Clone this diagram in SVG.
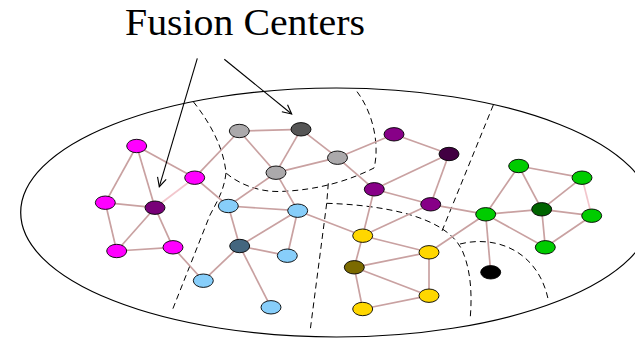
<svg xmlns="http://www.w3.org/2000/svg" width="635" height="338" viewBox="0 0 635 338">
  <defs>
    <style>
      .region { fill: none; stroke: #000; stroke-width: 1.2; }
      .part { fill: none; stroke: #000; stroke-width: 1; stroke-dasharray: 6 4; }
      .edge { stroke: #c9a1a1; stroke-width: 1.7; fill: none; }
      .edge.light { stroke: #f2c6cc; }
      .node ellipse { stroke: #000; stroke-width: 0.9; }
      .ptr { stroke: #000; stroke-width: 1.1; fill: none; }
      .label { font-family: "Liberation Serif", "DejaVu Serif", serif; font-size: 37px; fill: #000; }
    </style>
    <marker id="vee" viewBox="-10 -6 12 12" markerWidth="12" markerHeight="12" refX="0" refY="0" orient="auto" markerUnits="userSpaceOnUse">
      <path d="M -9,-4.5 L 0,0 L -9,4.5" fill="none" stroke="#000" stroke-width="1.1"/>
    </marker>
  </defs>

  <!-- whole network area -->
  <ellipse class="region" cx="336.4" cy="212.5" rx="315.7" ry="124.5"/>

  <!-- partition boundaries -->
  <g id="partitions">
    <path class="part" d="M193.3,101.7 C212,125 224,150 226,173 C240,185 260,192 280,191.5 C320,190 350,180 374,168 C379,150 376,115 355,89"/>
    <path class="part" d="M226,173 C224,190 218,200 210,215 L171.7,311.7"/>
    <path class="part" d="M328.3,183.3 L326.7,203.3 L310,331.7"/>
    <path class="part" d="M326.7,203.3 C380,205 445,215 462,250 C472,272 472,300 470,320"/>
    <path class="part" d="M493.3,105 L441.7,231.7"/>
    <path class="part" d="M460,244 C495,235 538,250 548.3,300"/>
  </g>

  <!-- links -->
  <g id="connectors">
    <line class="edge" x1="136.7" y1="146" x2="105.3" y2="202.7"/>
    <line class="edge" x1="136.7" y1="146" x2="155" y2="207.7"/>
    <line class="edge" x1="136.7" y1="146" x2="194.7" y2="177.7"/>
    <line class="edge" x1="105.3" y1="202.7" x2="155" y2="207.7"/>
    <line class="edge" x1="105.3" y1="202.7" x2="116.7" y2="251"/>
    <line class="edge" x1="155" y1="207.7" x2="116.7" y2="251"/>
    <line class="edge" x1="155" y1="207.7" x2="173" y2="247.3"/>
    <line class="edge light" x1="155" y1="207.7" x2="194.7" y2="177.7"/>
    <line class="edge" x1="116.7" y1="251" x2="173" y2="247.3"/>
    <line class="edge" x1="173" y1="247.3" x2="203.3" y2="280.7"/>
    <line class="edge" x1="194.7" y1="177.7" x2="239.3" y2="131"/>
    <line class="edge" x1="194.7" y1="177.7" x2="228.3" y2="206"/>
    <line class="edge" x1="239.3" y1="131" x2="301" y2="129.3"/>
    <line class="edge" x1="239.3" y1="131" x2="276" y2="172.7"/>
    <line class="edge" x1="301" y1="129.3" x2="276" y2="172.7"/>
    <line class="edge" x1="301" y1="129.3" x2="337.5" y2="157.7"/>
    <line class="edge" x1="276" y1="172.7" x2="337.5" y2="157.7"/>
    <line class="edge" x1="276" y1="172.7" x2="228.3" y2="206"/>
    <line class="edge" x1="276" y1="172.7" x2="297.7" y2="210.7"/>
    <line class="edge" x1="228.3" y1="206" x2="297.7" y2="210.7"/>
    <line class="edge" x1="228.3" y1="206" x2="239.7" y2="246"/>
    <line class="edge" x1="239.7" y1="246" x2="297.7" y2="210.7"/>
    <line class="edge" x1="239.7" y1="246" x2="287.3" y2="255.7"/>
    <line class="edge" x1="239.7" y1="246" x2="203.3" y2="280.7"/>
    <line class="edge" x1="239.7" y1="246" x2="271" y2="307.3"/>
    <line class="edge" x1="297.7" y1="210.7" x2="287.3" y2="255.7"/>
    <line class="edge" x1="297.7" y1="210.7" x2="362.7" y2="235.7"/>
    <line class="edge" x1="337.5" y1="157.7" x2="394" y2="134.3"/>
    <line class="edge" x1="337.5" y1="157.7" x2="374.3" y2="189.3"/>
    <line class="edge" x1="394" y1="134.3" x2="449" y2="154"/>
    <line class="edge" x1="449" y1="154" x2="374.3" y2="189.3"/>
    <line class="edge" x1="449" y1="154" x2="430.7" y2="204.3"/>
    <line class="edge" x1="374.3" y1="189.3" x2="430.7" y2="204.3"/>
    <line class="edge" x1="374.3" y1="189.3" x2="362.7" y2="235.7"/>
    <line class="edge" x1="430.7" y1="204.3" x2="485.7" y2="214.3"/>
    <line class="edge" x1="430.7" y1="204.3" x2="362.7" y2="235.7"/>
    <line class="edge" x1="362.7" y1="235.7" x2="429" y2="252.3"/>
    <line class="edge" x1="362.7" y1="235.7" x2="354.3" y2="267.3"/>
    <line class="edge" x1="354.3" y1="267.3" x2="429" y2="252.3"/>
    <line class="edge" x1="354.3" y1="267.3" x2="429" y2="295.7"/>
    <line class="edge" x1="354.3" y1="267.3" x2="362.7" y2="309"/>
    <line class="edge" x1="429" y1="252.3" x2="429" y2="295.7"/>
    <line class="edge" x1="429" y1="252.3" x2="485.7" y2="214.3"/>
    <line class="edge" x1="362.7" y1="309" x2="429" y2="295.7"/>
    <line class="edge" x1="485.7" y1="214.3" x2="518.7" y2="166"/>
    <line class="edge" x1="485.7" y1="214.3" x2="541.7" y2="209.3"/>
    <line class="edge" x1="485.7" y1="214.3" x2="545.3" y2="247.3"/>
    <line class="edge" x1="485.7" y1="214.3" x2="490.7" y2="272.3"/>
    <line class="edge" x1="518.7" y1="166" x2="582" y2="177.7"/>
    <line class="edge" x1="518.7" y1="166" x2="541.7" y2="209.3"/>
    <line class="edge" x1="582" y1="177.7" x2="541.7" y2="209.3"/>
    <line class="edge light" x1="582" y1="177.7" x2="591.7" y2="215.7"/>
    <line class="edge" x1="541.7" y1="209.3" x2="591.7" y2="215.7"/>
    <line class="edge" x1="541.7" y1="209.3" x2="545.3" y2="247.3"/>
    <line class="edge" x1="591.7" y1="215.7" x2="545.3" y2="247.3"/>
  </g>

  <!-- sensors -->
  <g id="m1" class="node"><ellipse cx="136.7" cy="146" rx="10" ry="6.7" fill="#ff00ff"/></g>
  <g id="m2" class="node"><ellipse cx="194.7" cy="177.7" rx="10" ry="6.7" fill="#ff00ff"/></g>
  <g id="m3" class="node"><ellipse cx="105.3" cy="202.7" rx="10" ry="6.7" fill="#ff00ff"/></g>
  <g id="c1" class="node"><ellipse cx="155" cy="207.7" rx="10" ry="6.7" fill="#780078"/></g>
  <g id="m4" class="node"><ellipse cx="116.7" cy="251" rx="10" ry="6.7" fill="#ff00ff"/></g>
  <g id="m5" class="node"><ellipse cx="173" cy="247.3" rx="10" ry="6.7" fill="#ff00ff"/></g>

  <g id="g1" class="node"><ellipse cx="239.3" cy="131" rx="10" ry="6.7" fill="#aba9ab"/></g>
  <g id="g2" class="node"><ellipse cx="301" cy="129.3" rx="10" ry="6.7" fill="#555555"/></g>
  <g id="g3" class="node"><ellipse cx="276" cy="172.7" rx="10" ry="6.7" fill="#aba9ab"/></g>
  <g id="g4" class="node"><ellipse cx="337.5" cy="157.7" rx="10" ry="6.7" fill="#aba9ab"/></g>

  <g id="b1" class="node"><ellipse cx="228.3" cy="206" rx="10" ry="6.7" fill="#87cefa"/></g>
  <g id="b2" class="node"><ellipse cx="297.7" cy="210.7" rx="10" ry="6.7" fill="#87cefa"/></g>
  <g id="b3" class="node"><ellipse cx="239.7" cy="246" rx="10" ry="6.7" fill="#44667f"/></g>
  <g id="b4" class="node"><ellipse cx="287.3" cy="255.7" rx="10" ry="6.7" fill="#87cefa"/></g>
  <g id="b5" class="node"><ellipse cx="203.3" cy="280.7" rx="10" ry="6.7" fill="#87cefa"/></g>
  <g id="b6" class="node"><ellipse cx="271" cy="307.3" rx="10" ry="6.7" fill="#87cefa"/></g>

  <g id="p1" class="node"><ellipse cx="394" cy="134.3" rx="10" ry="6.7" fill="#870087"/></g>
  <g id="p2" class="node"><ellipse cx="449" cy="154" rx="10" ry="6.7" fill="#420042"/></g>
  <g id="p3" class="node"><ellipse cx="374.3" cy="189.3" rx="10" ry="6.7" fill="#870087"/></g>
  <g id="p4" class="node"><ellipse cx="430.7" cy="204.3" rx="10" ry="6.7" fill="#870087"/></g>

  <g id="y1" class="node"><ellipse cx="362.7" cy="235.7" rx="10" ry="6.7" fill="#ffd700"/></g>
  <g id="y2" class="node"><ellipse cx="429" cy="252.3" rx="10" ry="6.7" fill="#ffd700"/></g>
  <g id="y3" class="node"><ellipse cx="354.3" cy="267.3" rx="10" ry="6.7" fill="#7b6a00"/></g>
  <g id="y4" class="node"><ellipse cx="429" cy="295.7" rx="10" ry="6.7" fill="#ffd700"/></g>
  <g id="y5" class="node"><ellipse cx="362.7" cy="309" rx="10" ry="6.7" fill="#ffd700"/></g>

  <g id="e1" class="node"><ellipse cx="518.7" cy="166" rx="10" ry="6.7" fill="#00cc00"/></g>
  <g id="e2" class="node"><ellipse cx="582" cy="177.7" rx="10" ry="6.7" fill="#00cc00"/></g>
  <g id="e3" class="node"><ellipse cx="541.7" cy="209.3" rx="10" ry="6.7" fill="#006400"/></g>
  <g id="e4" class="node"><ellipse cx="485.7" cy="214.3" rx="10" ry="6.7" fill="#00cc00"/></g>
  <g id="e5" class="node"><ellipse cx="591.7" cy="215.7" rx="10" ry="6.7" fill="#00cc00"/></g>
  <g id="e6" class="node"><ellipse cx="545.3" cy="247.3" rx="10" ry="6.7" fill="#00cc00"/></g>
  <g id="k" class="node"><ellipse cx="490.7" cy="272.3" rx="10" ry="6.7" fill="#000000"/></g>

  <!-- caption with pointers -->
  <g id="caption">
    <text class="label" x="125" y="35" textLength="240" lengthAdjust="spacingAndGlyphs">Fusion Centers</text>
    <line class="ptr" x1="197.3" y1="58.3" x2="159.3" y2="186.7" marker-end="url(#vee)"/>
    <line class="ptr" x1="224.3" y1="59.3" x2="291.7" y2="114" marker-end="url(#vee)"/>
  </g>
</svg>
